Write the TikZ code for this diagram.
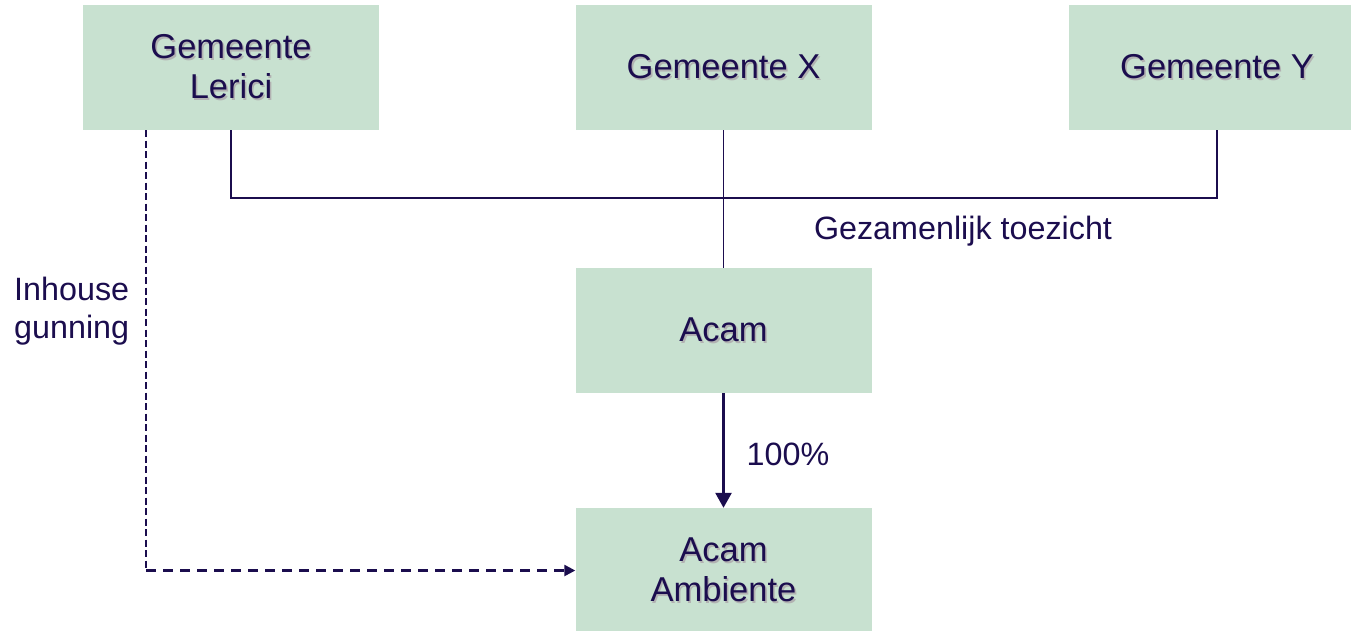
\documentclass[tikz,border=0pt]{standalone}
\usepackage{fontspec}
\setmainfont{Liberation Sans}
\usetikzlibrary{arrows.meta,calc}
\definecolor{boxgreen}{HTML}{C8E1D0}
\definecolor{ink}{HTML}{1B0D4E}
\newcommand\shd[1]{\leavevmode\raisebox{-2.5pt}{\rlap{\hspace{1.6pt}\raisebox{-1.6pt}{\textcolor{black!30}{#1}}}#1}}
\tikzset{
  orgbox/.style={fill=boxgreen, draw=none, minimum width=296pt, minimum height=125pt, inner sep=0pt,
    text=ink, align=center, font=\fontsize{34.5}{40}\selectfont},
  lbl/.style={text=ink, font=\fontsize{32.3}{38.5}\selectfont, inner sep=0pt},
  conn/.style={draw=ink, line width=1.3pt},
  own/.style={draw=ink, line width=2.6pt, -{Triangle[length=15pt,width=16pt]}},
  dashv/.style={draw=ink, line width=1.3pt, dash pattern=on 7pt off 3.5pt},
  dashh/.style={draw=ink, line width=2.4pt, dash pattern=on 10pt off 7pt, -{Triangle[length=11pt,width=11pt]}}
}
\begin{document}
\begin{tikzpicture}[x=1pt,y=-1pt]
\useasboundingbox (0,0) rectangle (1351,630);
\node[orgbox] (lerici) at (231,67.5) {\shd{Gemeente}\\\shd{Lerici}};
\node[orgbox] (gx) at (723.5,67.5) {\shd{Gemeente X}};
\node[orgbox] (gy) at (1217,67.5) {\shd{Gemeente Y}};
\node[orgbox] (acam) at (723.5,330.5) {\shd{Acam}};
\node[orgbox] (amb) at (723.5,570.5) {\shd{Acam}\\\shd{Ambiente}};
\coordinate (bus) at (723.5,198);
\coordinate (dc) at (146,570.5);
\draw[conn] (lerici.south) |- (bus) -| (gy.south);
\draw[conn] (gx.south) -- (acam.north);
\draw[own] (acam.south) -- (amb.north);
\draw[dashv] (dc |- lerici.south) -- (dc);
\draw[dashh] (dc) -- (amb.west);
\node[lbl] (gez) at (963,231) {Gezamenlijk toezicht};
\node[lbl] (pct) at (788,454) {100\%};
\node[lbl, anchor=west, align=left] (inh) at (14,311) {Inhouse\\gunning};
\end{tikzpicture}
\end{document}
